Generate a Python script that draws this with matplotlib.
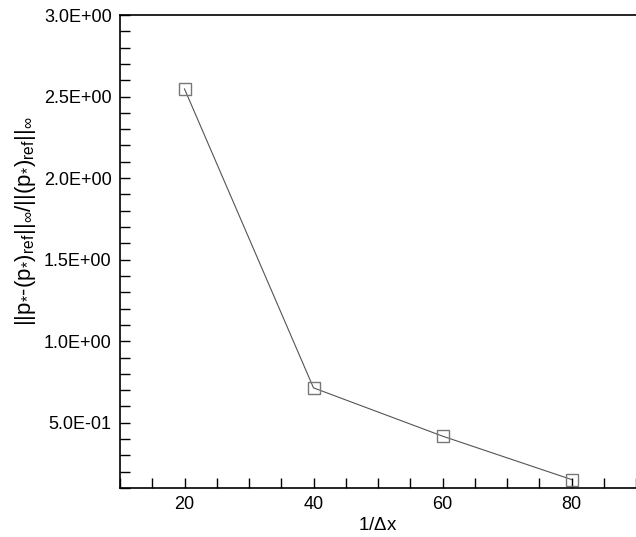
import numpy as np
import matplotlib
matplotlib.use('Agg')
import matplotlib.pyplot as plt
from matplotlib.ticker import MultipleLocator, FuncFormatter

plt.rcParams['font.family'] = 'Liberation Sans'
plt.rcParams['mathtext.fontset'] = 'custom'
plt.rcParams['mathtext.rm'] = 'Liberation Sans'
plt.rcParams['mathtext.it'] = 'Liberation Sans'
plt.rcParams['mathtext.default'] = 'regular'

# data
inv_dx = [20, 40, 60, 80]
err = [2.547, 0.714, 0.418, 0.152]

fig = plt.figure(figsize=(6.36, 5.37), dpi=100)
ax = fig.add_axes([120/636, 1-488/537, 1-120/636, (488-15)/537])

ax.plot(inv_dx, err, color='#555555', linewidth=0.8, marker='s', markersize=9,
        markerfacecolor='none', markeredgecolor='#777777', markeredgewidth=1.0)

ax.set_xlim(10, 90)
ax.set_ylim(0.1, 3.0)
ax.xaxis.set_major_locator(MultipleLocator(20))
ax.xaxis.set_minor_locator(MultipleLocator(5))
ax.yaxis.set_major_locator(MultipleLocator(0.5))
ax.yaxis.set_minor_locator(MultipleLocator(0.1))
ax.yaxis.set_major_formatter(FuncFormatter(lambda v, p: '%.1E' % v if v > 0.3 else ''))

ax.tick_params(which='both', direction='in', length=7, width=1.0, labelsize=13, pad=6,
               top=False, right=False)
ax.spines['right'].set_visible(False)
for s in ['left', 'bottom', 'top']:
    ax.spines[s].set_linewidth(1.2)

ax.set_xlabel(r'1/$\Delta$x', fontsize=13.5, labelpad=3)
fig.text(26/636, 1-221/537,
         r'||p$_{*}$-(p$_{*}$)$_{ref}$||$_{\infty}$/||(p$_{*}$)$_{ref}$||$_{\infty}$',
         rotation=90, ha='center', va='center', fontsize=16)

fig.savefig('out.png', dpi=100)
